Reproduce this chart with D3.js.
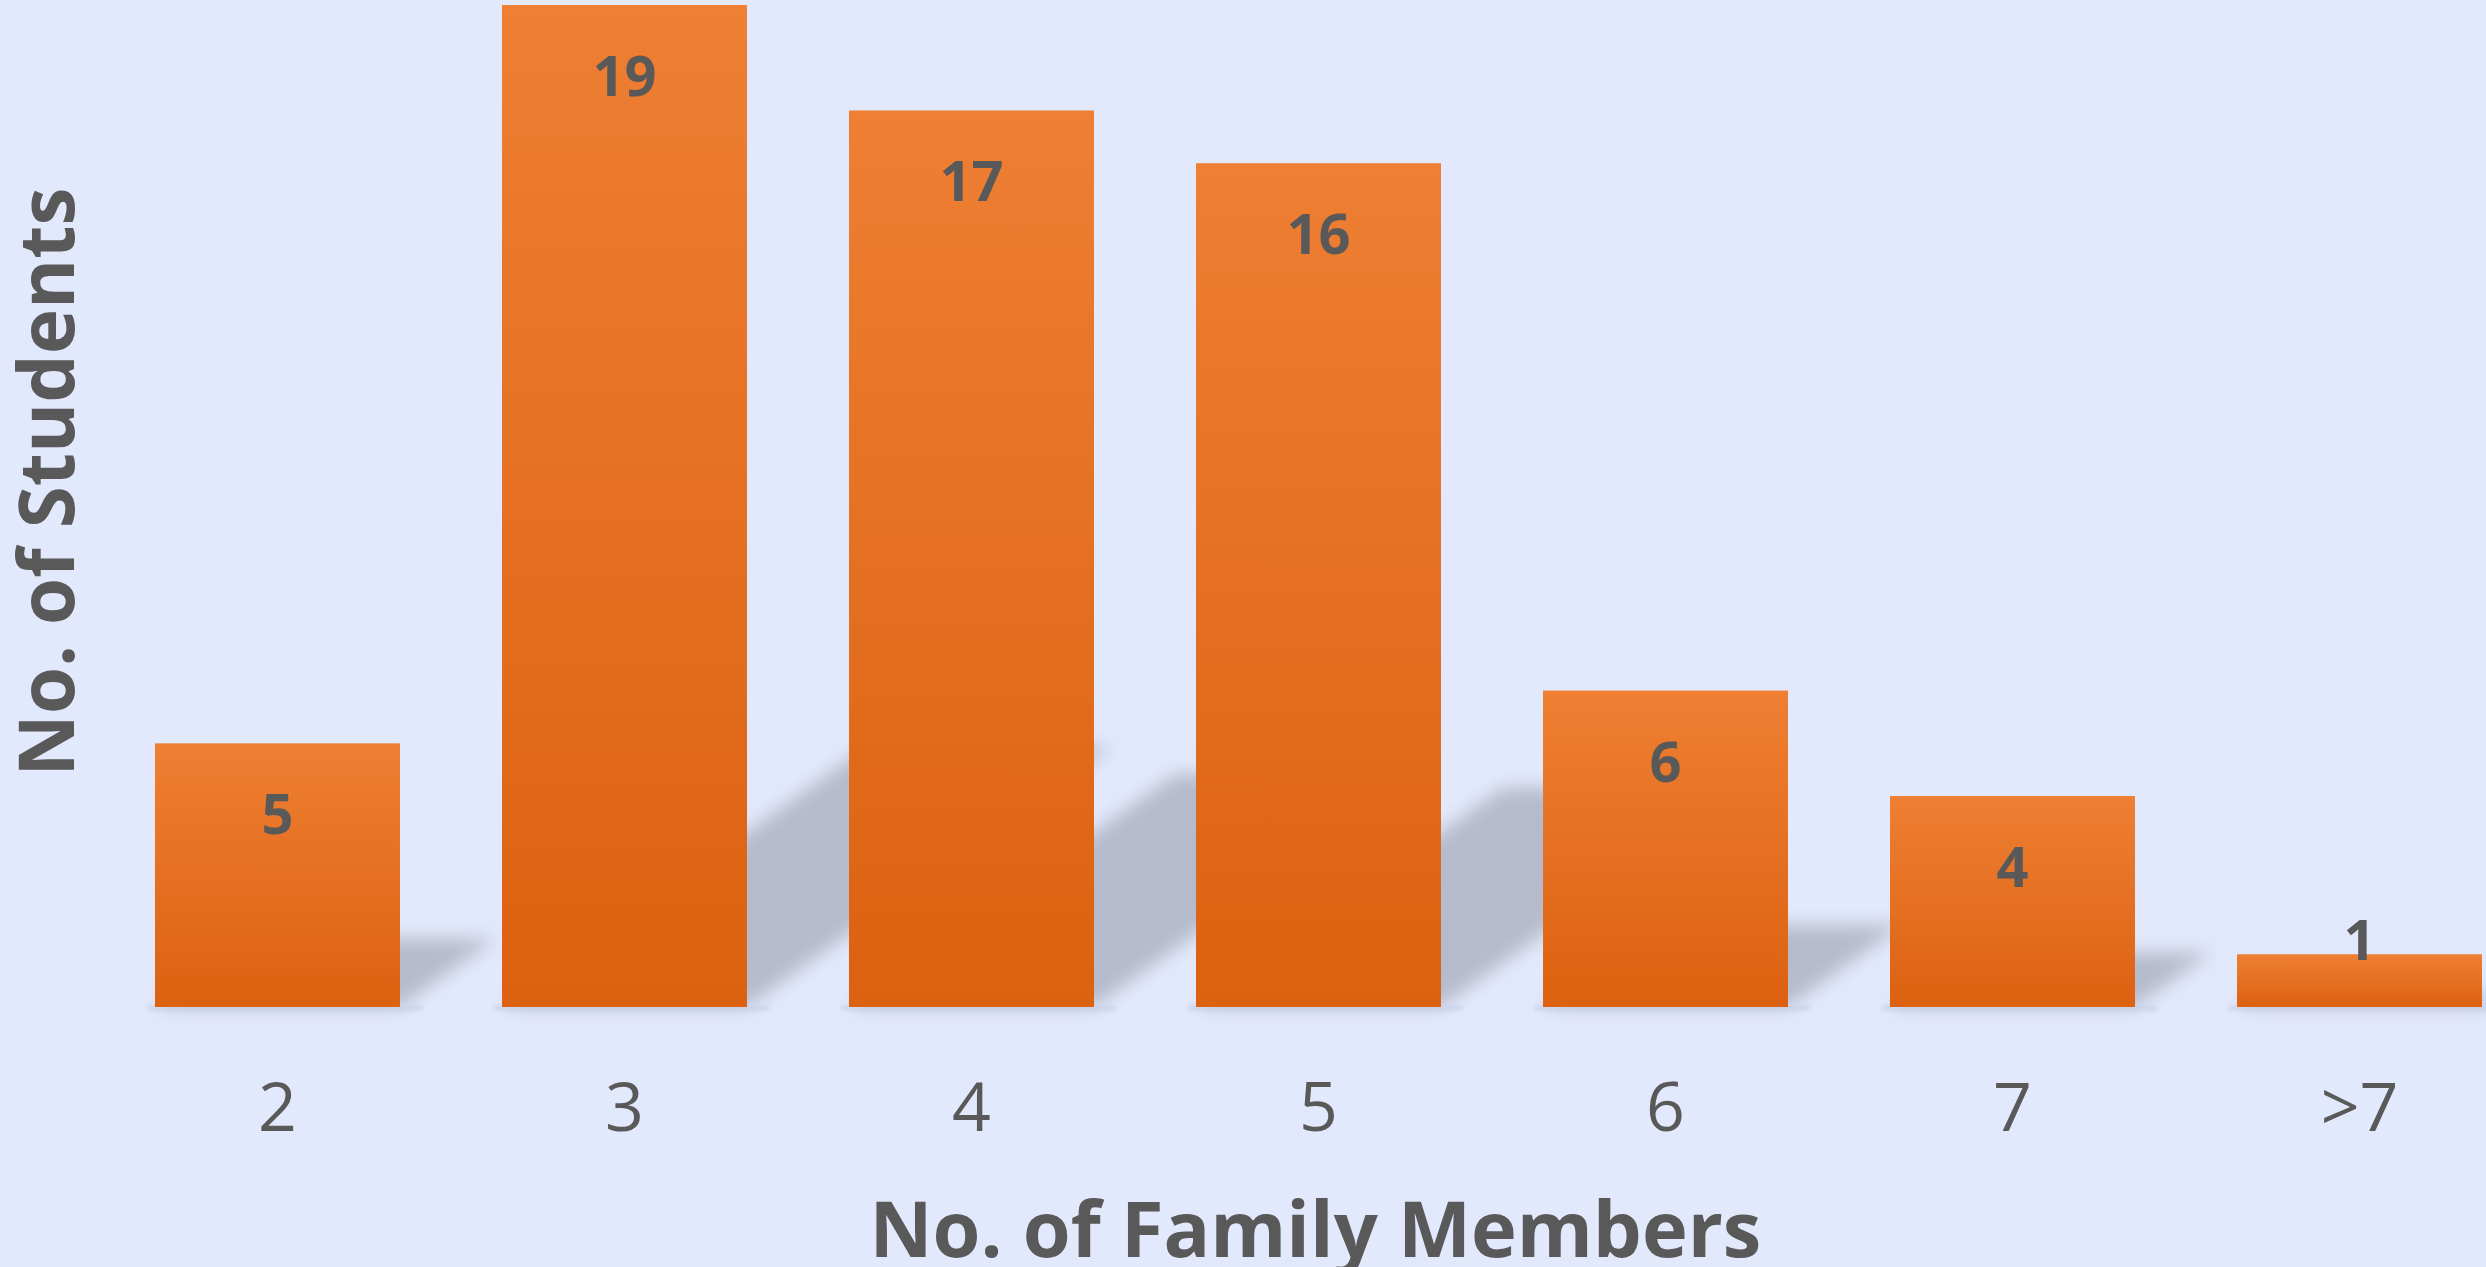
<!DOCTYPE html>
<html>
<head>
<meta charset="utf-8">
<script src="https://cdn.jsdelivr.net/npm/d3@7/dist/d3.min.js"></script>
<style>
  html, body { margin: 0; padding: 0; background: #E3E9FC; }
  svg { display: block; }
</style>
</head>
<body>
<script>
const categories = ["2", "3", "4", "5", "6", "7", ">7"];
const students = [5, 19, 17, 16, 6, 4, 1];
const xTitle = "No. of Family Members";
const yTitle = "No. of Students";

const W = 2486, H = 1267;
const baseY = 1007, topY = 5;
const textColor = "#595959";
const font = "'Open Sans', 'Segoe UI', sans-serif";

const svg = d3.select("body").append("svg")
  .attr("width", W).attr("height", H);

svg.append("rect").attr("width", W).attr("height", H).attr("fill", "#E3E9FC");

const defs = svg.append("defs");
const grad = defs.append("linearGradient").attr("id", "barGrad")
  .attr("x1", 0).attr("y1", 0).attr("x2", 0).attr("y2", 1);
grad.append("stop").attr("offset", "0%").attr("stop-color", "#EE7F33");
grad.append("stop").attr("offset", "100%").attr("stop-color", "#DC6110");

defs.append("filter").attr("id", "shBlur")
  .attr("x", "-50%").attr("y", "-50%").attr("width", "200%").attr("height", "200%")
  .append("feGaussianBlur").attr("stdDeviation", 9);
defs.append("filter").attr("id", "baseBlur")
  .attr("x", "-20%").attr("y", "-200%").attr("width", "140%").attr("height", "500%")
  .append("feGaussianBlur").attr("stdDeviation", 2);

const x = d3.scaleBand()
  .domain(categories)
  .range([104, 2533])
  .paddingInner(0.294)
  .paddingOuter(0.147);

const y = d3.scaleLinear()
  .domain([0, 19])
  .range([baseY, topY]);

const data = categories.map((c, i) => ({ c, v: students[i] }));

// perspective shadows (diagonal upper right)
const shScale = 0.26, shSkew = 1.4;
svg.append("g").attr("filter", "url(#shBlur)")
  .selectAll("path").data(data).enter().append("path")
  .attr("fill", "#B5BBCC")
  .attr("d", d => {
    const L = x(d.c), R = x(d.c) + x.bandwidth();
    const h = (y(0) - y(d.v)) * shScale;
    const off = h * shSkew;
    return `M${L},${y(0)} L${R},${y(0)} L${R + off},${y(0) - h} L${L + off},${y(0) - h} Z`;
  });

// faint base shadow line
svg.append("g").attr("filter", "url(#baseBlur)")
  .selectAll("rect").data(data).enter().append("rect")
  .attr("x", d => x(d.c) - 8)
  .attr("y", y(0) - 1)
  .attr("width", x.bandwidth() + 30)
  .attr("height", 4)
  .attr("fill", "#C9D0E8");

// bars
svg.append("g").selectAll("rect").data(data).enter().append("rect")
  .attr("x", d => x(d.c))
  .attr("y", d => y(d.v))
  .attr("width", x.bandwidth())
  .attr("height", d => y(0) - y(d.v))
  .attr("fill", "url(#barGrad)");

// data labels
svg.append("g").selectAll("text").data(data).enter().append("text")
  .attr("x", d => x(d.c) + x.bandwidth() / 2)
  .attr("y", d => Math.min(y(d.v) + 91, y(0) - 47))
  .attr("text-anchor", "middle")
  .attr("font-family", font)
  .attr("font-weight", 700)
  .attr("font-size", 56)
  .attr("fill", textColor)
  .text(d => d.v);

// x axis
const xAxis = svg.append("g")
  .attr("transform", `translate(0,${baseY})`)
  .call(d3.axisBottom(x).tickSize(0));
xAxis.select(".domain").remove();
xAxis.selectAll("text")
  .attr("y", 124).attr("dy", 0)
  .attr("font-family", font)
  .attr("font-size", 68)
  .attr("fill", textColor);

// axis titles
svg.append("text")
  .attr("x", (x.range()[0] + x.range()[1]) / 2 - 3)
  .attr("y", 1257)
  .attr("text-anchor", "middle")
  .attr("font-family", font)
  .attr("font-weight", 700)
  .attr("font-size", 77.5)
  .attr("fill", textColor)
  .text(xTitle);

svg.append("text")
  .attr("transform", "translate(74,482) rotate(-90)")
  .attr("text-anchor", "middle")
  .attr("font-family", font)
  .attr("font-weight", 700)
  .attr("font-size", 76.5)
  .attr("fill", textColor)
  .text(yTitle);
</script>
</body>
</html>
